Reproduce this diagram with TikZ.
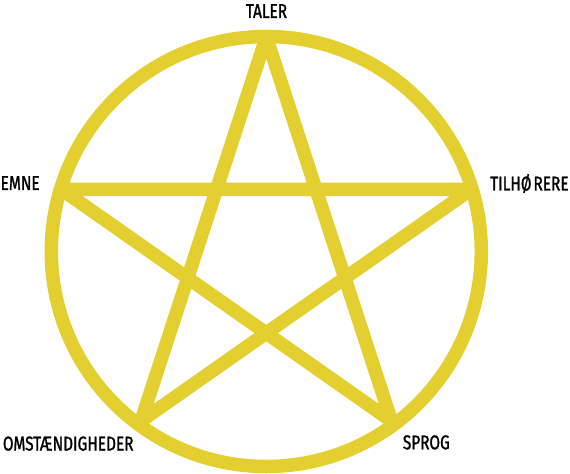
\documentclass[tikz,border=0pt]{standalone}
\usepackage{fontspec}
\setmainfont{Fira Sans}[FakeStretch=0.77,FakeBold=1.3]
\definecolor{penta}{RGB}{227,207,48}
\begin{document}
\begin{tikzpicture}[x=1bp,y=-1bp,
  ring/.style={draw=penta,line width=13.5bp},
  starline/.style={draw=penta,line width=13.5bp,line join=bevel},
  lbl/.style={inner sep=0pt,font=\fontsize{20bp}{24bp}\selectfont,text=black}]
\useasboundingbox (0,0) rectangle (570,474);
\coordinate (C) at (266.3,251.5);
\coordinate (T) at (266.3,37);
\coordinate (L) at (61.5,189.5);
\coordinate (R) at (471,189.5);
\coordinate (BL) at (141,421);
\coordinate (BR) at (391.5,421);
\draw[starline] (T) -- (BL) -- (R) -- (L) -- (BR) -- cycle;
\draw[ring] (C) circle[radius=215];
\node[lbl,anchor=base] (taler) at (266.5,18) {TALER};
\node[lbl,anchor=base west] (emne) at (0.5,190) {EMNE};
\node[lbl,anchor=base west] (tilh) at (490,190.5) {TILHØ\kern2bp RERE};
\node[lbl,anchor=base west] (omst) at (2.7,450.5) {OMSTÆNDIGHEDER};
\node[lbl,anchor=base west] (sprog) at (402.7,449.3) {SPROG};
\end{tikzpicture}
\end{document}
